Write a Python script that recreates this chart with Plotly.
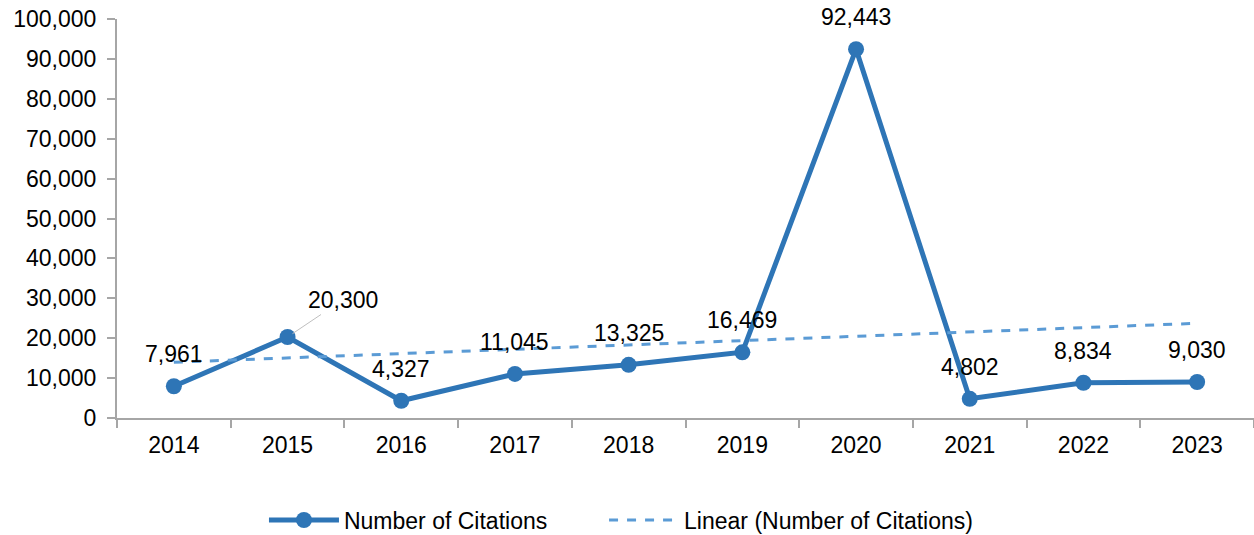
import numpy as np
import plotly.graph_objects as go

years = ["2014", "2015", "2016", "2017", "2018", "2019", "2020", "2021", "2022", "2023"]
citations = [7961, 20300, 4327, 11045, 13325, 16469, 92443, 4802, 8834, 9030]
y_ticks = list(range(0, 100001, 10000))

LINE_COLOR = "#2E75B6"
TREND_COLOR = "#5B9BD5"
AXIS_COLOR = "#A6A6A6"
FONT = "Liberation Sans, Arial, sans-serif"
FS = 23

# Excel-style linear trendline (least squares on category index)
idx = np.arange(1, len(citations) + 1)
slope, intercept = np.polyfit(idx, citations, 1)
trend = slope * idx + intercept

fig = go.Figure()
fig.add_trace(go.Scatter(
    x=years, y=citations, mode="lines+markers", name="Number of Citations",
    line=dict(color=LINE_COLOR, width=5),
    marker=dict(color=LINE_COLOR, size=16),
    hoverinfo="skip", legend="legend",
))
fig.add_trace(go.Scatter(
    x=years, y=trend, mode="lines", name="Linear (Number of Citations)",
    line=dict(color=TREND_COLOR, width=3, dash="dash"),
    hoverinfo="skip", legend="legend2",
))

for i, (yr, v) in enumerate(zip(years, citations)):
    if yr == "2015":
        fig.add_annotation(
            x=i, y=v, text=f"{v:,}", showarrow=True, arrowhead=0,
            arrowcolor="#BFBFBF", arrowwidth=1, ax=55, ay=-37,
            font=dict(size=FS, color="black", family=FONT),
            xanchor="center", yanchor="middle", standoff=6,
        )
    else:
        fig.add_annotation(
            x=i, y=v, text=f"{v:,}", showarrow=False, yshift=32,
            font=dict(size=FS, color="black", family=FONT),
            xanchor="center", yanchor="middle",
        )

fig.update_xaxes(
    type="category", range=[-0.5, len(years) - 0.5],
    showline=True, linecolor=AXIS_COLOR, linewidth=2,
    ticks="outside", tickson="boundaries", ticklen=8, tickcolor=AXIS_COLOR, tickwidth=2,
    showgrid=False, zeroline=False, automargin=False, ticklabelstandoff=5,
    ticklabeloverflow="allow",
    tickfont=dict(size=FS, color="black", family=FONT),
)
fig.update_yaxes(
    range=[0, 100000], tickvals=y_ticks, tickformat=",",
    showline=True, linecolor=AXIS_COLOR, linewidth=2,
    ticks="outside", ticklen=8, tickcolor=AXIS_COLOR, tickwidth=2,
    showgrid=False, zeroline=False, automargin=False, ticklabelstandoff=6,
    ticklabeloverflow="allow",
    tickfont=dict(size=FS, color="black", family=FONT),
)

legend_common = dict(
    orientation="h", xref="container", yref="container",
    xanchor="left", y=0.028, yanchor="middle",
    font=dict(size=FS, color="black", family=FONT),
    itemwidth=70, bgcolor="rgba(0,0,0,0)",
)

fig.update_layout(
    width=1254, height=535,
    margin=dict(l=117, r=0, t=19, b=117, autoexpand=False),
    plot_bgcolor="white", paper_bgcolor="white",
    font=dict(family=FONT, size=FS, color="black"),
    showlegend=True,
    legend=dict(x=0.2105, **legend_common),
    legend2=dict(x=0.4817, **legend_common),
    hovermode=False,
)

# remove the browser's default 8px body margin so the figure fills the window
fig.write_html(
    "out.html",
    config={"displayModeBar": False, "staticPlot": True},
    post_script="document.body.style.margin='0';",
)
